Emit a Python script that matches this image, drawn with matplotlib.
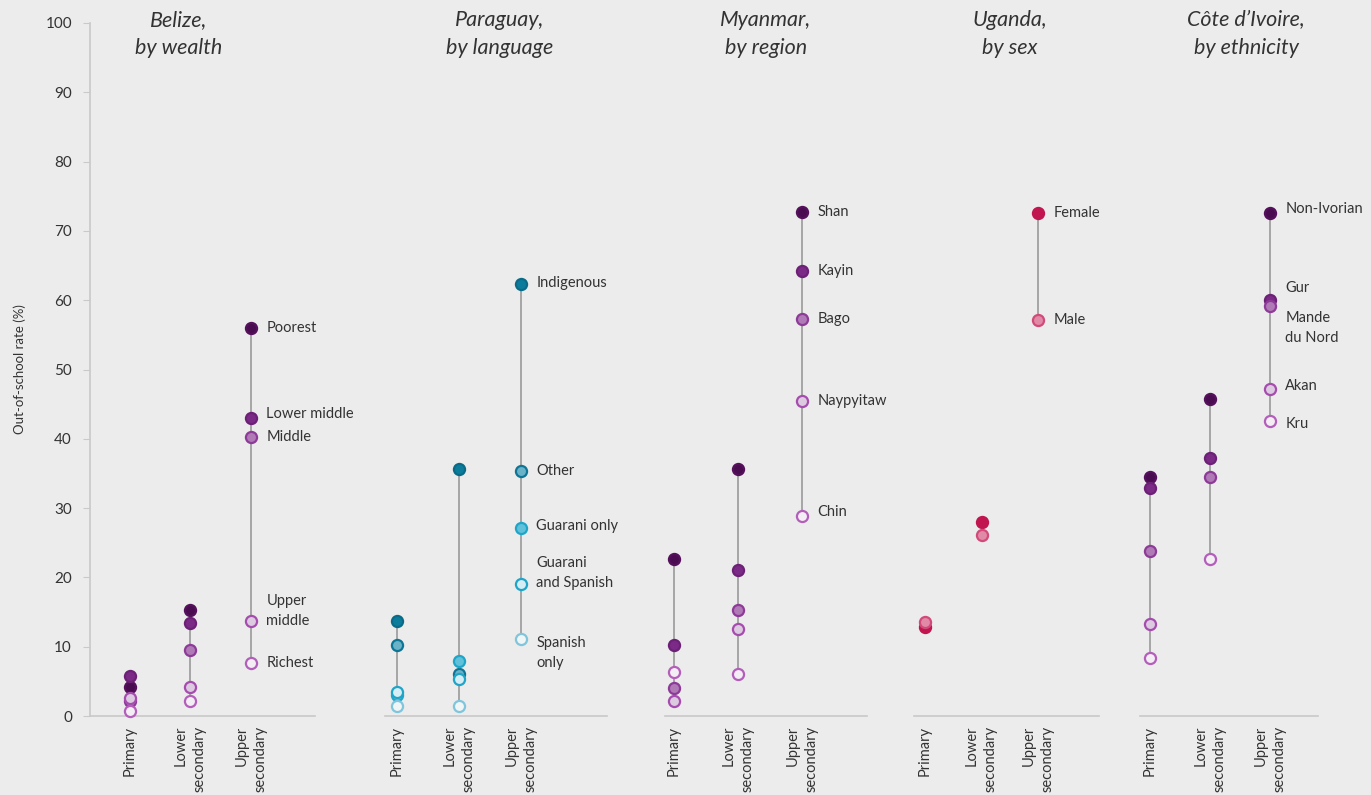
import matplotlib
matplotlib.use("Agg")
import matplotlib.pyplot as plt
import numpy as np

# 数据: 各国按群体的失学率 (%), 顺序为 Primary / Lower secondary / Upper secondary
levels = ["Primary", "Lower\nsecondary", "Upper\nsecondary"]

belize_groups = ["Poorest", "Lower middle", "Middle", "Upper\nmiddle", "Richest"]
belize_vals = [[4.2, 15.3, 56.0],
               [5.7, 13.4, 43.0],
               [2.2, 9.5, 40.3],
               [2.6, 4.2, 13.7],
               [0.7, 2.2, 7.6]]

paraguay_groups = ["Indigenous", "Other", "Guarani only", "Guarani\nand Spanish", "Spanish\nonly"]
paraguay_vals = [[13.75, 35.6, 62.3],
                 [10.2, 6.1, 35.3],
                 [3.0, 8.0, 27.2],
                 [3.4, 5.3, 19.1],
                 [1.4, 1.4, 11.1]]

myanmar_groups = ["Shan", "Kayin", "Bago", "Naypyitaw", "Chin"]
myanmar_vals = [[22.6, 35.7, 72.7],
                [10.3, 21.1, 64.2],
                [4.1, 15.3, 57.3],
                [2.2, 12.6, 45.4],
                [6.4, 6.0, 28.8]]

uganda_groups = ["Female", "Male"]
uganda_vals = [[12.9, 28.0, 72.6],
               [13.6, 26.1, 57.2]]

cote_groups = ["Non-Ivorian", "Gur", "Mande\ndu Nord", "Akan", "Kru"]
cote_vals = [[34.5, 45.7, 72.6],
             [32.9, 37.2, 60.0],
             [23.8, 34.5, 59.2],
             [13.3, np.nan, 47.2],
             [8.4, 22.6, 42.6]]

titles = ["Belize,\nby wealth", "Paraguay,\nby language", "Myanmar,\nby region",
          "Uganda,\nby sex", "Côte d’Ivoire,\nby ethnicity"]

# 颜色 (填充, 边框)
purple = [("#4a0b50", "#55105c"), ("#7c2a87", "#6c2076"), ("#b07ab7", "#8e3a98"),
          ("#dccbe0", "#a64caf"), ("#f3eef4", "#b45ebc")]
teal = [("#0b7c9c", "#0a6b88"), ("#6ab2c8", "#0d7696"), ("#60c1da", "#1fa5c8"),
        ("#d5edf4", "#1fa5c8"), ("#f0f5f6", "#80c5dc")]
red = [("#c0154f", "#c0154f"), ("#e08aa6", "#d24a7b")]

# 标签的垂直微调 (数据单位)
belize_dy = [0, 0.6, 0, 1.5, 0]
paraguay_dy = [0.15, 0, 0.15, 1.5, -2.0]
myanmar_dy = [0, 0, 0, 0, 0.7]
uganda_dy = [0, 0]
cote_dy = [0.6, 1.7, -3.2, 0.4, -0.4]

panels = [
    (belize_groups, belize_vals, purple, belize_dy, (90, 315, 130, 251), 179),
    (paraguay_groups, paraguay_vals, teal, paraguay_dy, (385, 607, 397, 521), 500),
    (myanmar_groups, myanmar_vals, purple, myanmar_dy, (665, 867, 674, 802), 766),
    (uganda_groups, uganda_vals, red, uganda_dy, (914, 1099, 925, 1038), 1010),
    (cote_groups, cote_vals, purple, cote_dy, (1140, 1318, 1150, 1270), 1246),
]

bg = "#ebeceb"
txt = "#333333"
grey = "#c9c9c9"
plt.rcParams["font.family"] = ["Lato", "DejaVu Sans"]

W, H = 1371, 795
fig = plt.figure(figsize=(W / 100, H / 100), dpi=100, facecolor=bg)
ytop, ybot = 23, 716

for i, (groups, vals, cols, dys, (x0, x1, p0, p2), tx) in enumerate(panels):
    ax = fig.add_axes([x0 / W, (H - ybot) / H, (x1 - x0) / W, (ybot - ytop) / H])
    ax.set_facecolor(bg)
    step = (p2 - p0) / 2
    ax.set_xlim((x0 - p0) / step, (x1 - p0) / step)
    ax.set_ylim(0, 100)
    arr = np.array(vals, dtype=float)
    xs = np.arange(3)
    # 竖线
    for j in xs:
        col = arr[:, j]
        col = col[~np.isnan(col)]
        ax.plot([j, j], [col.min(), col.max()], color="#929292", lw=1.1, zorder=1,
                solid_capstyle="butt")
    for k, g in enumerate(groups):
        fc, ec = cols[k]
        ax.plot(xs, arr[k], ls="none", marker="o", ms=8, mfc=fc, mec=ec, mew=1.6,
                zorder=3 + k, clip_on=False)
        ax.annotate(g, (2, arr[k, 2] + dys[k]), xytext=(11, 0), textcoords="offset points",
                    va="center", ha="left", fontsize=10.5, color=txt, linespacing=1.55)
    for s in ["top", "right"]:
        ax.spines[s].set_visible(False)
    ax.spines["bottom"].set_color(grey)
    ax.spines["bottom"].set_linewidth(1.2)
    ax.set_xticks(xs)
    ax.set_xticklabels(levels, rotation=90, fontsize=10.5, color=txt,
                       ha="center", va="top", multialignment="right", linespacing=1.45)
    ax.tick_params(axis="x", length=0, pad=7)
    if i == 0:
        ax.spines["left"].set_color(grey)
        ax.spines["left"].set_linewidth(1.2)
        ax.set_yticks(range(0, 101, 10))
        ax.tick_params(axis="y", length=5, color=grey, labelsize=11, labelcolor=txt, pad=8)
        ax.set_ylabel("Out-of-school rate (%)", fontsize=9.5, color=txt, labelpad=14)
    else:
        ax.spines["left"].set_visible(False)
        ax.set_yticks([])
    fig.text(tx / W, 1 - 34 / H, titles[i], ha="center", va="center", fontsize=15.5,
             style="italic", color=txt, linespacing=1.55)

fig.savefig("out.png", dpi=100, facecolor=bg)
